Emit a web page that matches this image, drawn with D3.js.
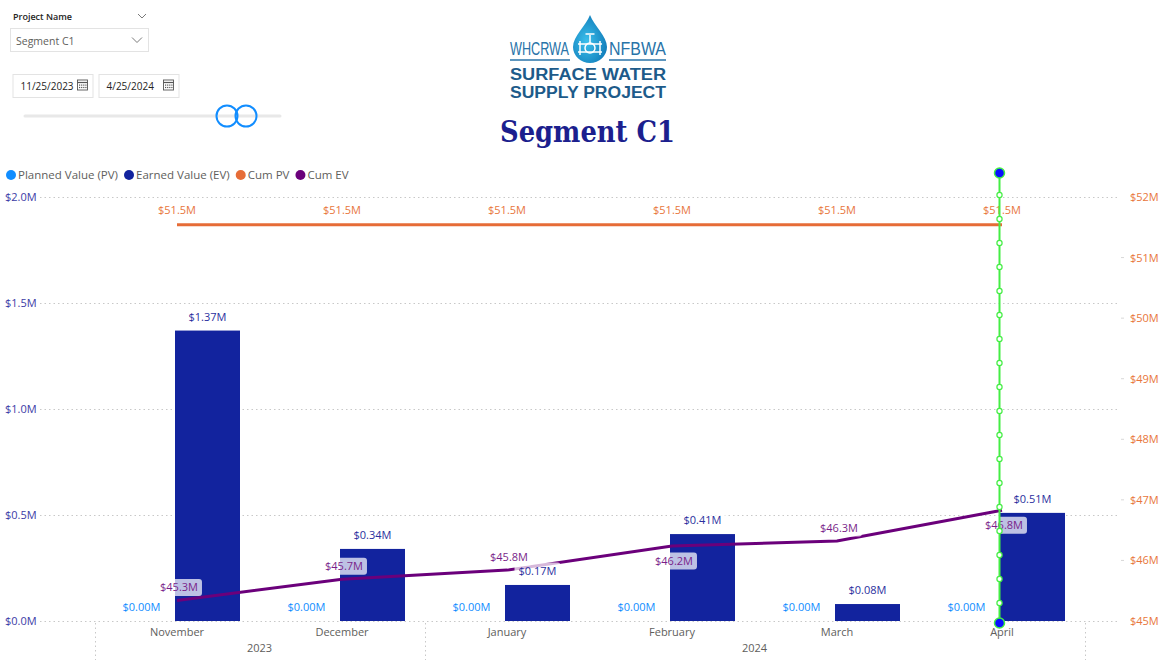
<!DOCTYPE html>
<html>
<head>
<meta charset="utf-8">
<script src="https://cdn.jsdelivr.net/npm/d3@7"></script>
<style>
  html, body { margin: 0; padding: 0; background: #ffffff; }
  svg { display: block; font-family: "Open Sans", "Noto Sans", sans-serif; }
</style>
</head>
<body>
<svg id="chart" width="1172" height="670"></svg>
<script>
// ---------- DATA ----------
const months = ["November", "December", "January", "February", "March", "April"];
const monthYears = ["2023", "2023", "2024", "2024", "2024", "2024"];
const yearLabels = ["2023", "2024"];
const plannedValue = [0, 0, 0, 0, 0, 0];          // $M
const earnedValue = [1.37, 0.34, 0.17, 0.41, 0.08, 0.51]; // $M
const cumPV = [51.54, 51.54, 51.54, 51.54, 51.54, 51.54]; // $M
const cumEV = [45.34, 45.69, 45.84, 46.24, 46.32, 46.83]; // $M
const leftTicks = [0, 0.5, 1.0, 1.5, 2.0];
const rightTicks = [45, 46, 47, 48, 49, 50, 51, 52];
const seriesNames = ["Planned Value (PV)", "Earned Value (EV)", "Cum PV", "Cum EV"];
const cumEVLabelSide = ["above", "above", "above", "below", "above", "below"];

// ---------- STYLE ----------
const colors = { pv: "#118DFF", ev: "#12239E", cumPV: "#E66C37", cumEV: "#6B007B" };
const seriesColors = [colors.pv, colors.ev, colors.cumPV, colors.cumEV];
const textGray = "#605E5C";

const svg = d3.select("#chart");

// ---------- SCALES ----------
const plotTop = 197, plotBottom = 621, plotLeft = 94.5, plotRight = 1084.5;
const x0 = d3.scaleBand().domain(months).range([plotLeft, plotRight]).padding(0);
const x1 = d3.scaleBand().domain(["PV", "EV"]).range([15.5, 145.5]).padding(0);
const yL = d3.scaleLinear().domain([0, 2]).range([plotBottom, plotTop]);
const yR = d3.scaleLinear().domain([45, 52]).range([plotBottom, plotTop]);
const cx = m => x0(m) + x0.bandwidth() / 2;

// ---------- TOP-LEFT CONTROLS ----------
const ctl = svg.append("g");
ctl.append("text").attr("x", 13).attr("y", 20).attr("font-size", 9).attr("font-weight", 600)
  .attr("fill", "#252423").text("Project Name");
function chevron(g, x, y, w, col) {
  g.append("path").attr("d", `M${x - w},${y - w / 2} L${x},${y + w / 2} L${x + w},${y - w / 2}`)
    .attr("fill", "none").attr("stroke", col).attr("stroke-width", 1);
}
chevron(ctl, 142, 16, 4, "#7a7a7a");
ctl.append("rect").attr("x", 10.5).attr("y", 28.5).attr("width", 138).attr("height", 23)
  .attr("fill", "#fff").attr("stroke", "#e3e3e3");
ctl.append("text").attr("x", 16).attr("y", 45).attr("font-size", 10.5).attr("fill", textGray).text("Segment C1");
chevron(ctl, 137, 40, 5, "#7a7a7a");

function dateBox(x, w, label) {
  ctl.append("rect").attr("x", x + 0.5).attr("y", 74.5).attr("width", w).attr("height", 23)
    .attr("fill", "#fff").attr("stroke", "#e3e3e3");
  ctl.append("text").attr("x", x + 8).attr("y", 90).attr("font-size", 10).attr("fill", "#252423").text(label);
  const ix = x + w - 15, iy = 80;
  ctl.append("rect").attr("x", ix).attr("y", iy).attr("width", 10).attr("height", 10)
    .attr("fill", "none").attr("stroke", "#555").attr("stroke-width", 0.9);
  ctl.append("line").attr("x1", ix).attr("x2", ix + 10).attr("y1", iy + 2.5).attr("y2", iy + 2.5)
    .attr("stroke", "#555").attr("stroke-width", 1.2);
  for (let r = 0; r < 2; r++) for (let c = 0; c < 4; c++) {
    ctl.append("rect").attr("x", ix + 1.5 + c * 2.1).attr("y", iy + 4.5 + r * 2.4)
      .attr("width", 1.2).attr("height", 1.2).attr("fill", "#555");
  }
}
dateBox(12.5, 80, "11/25/2023");
dateBox(98.5, 80, "4/25/2024");

ctl.append("line").attr("x1", 25).attr("x2", 280).attr("y1", 116).attr("y2", 116)
  .attr("stroke", "#e8e8e8").attr("stroke-width", 3).attr("stroke-linecap", "round");
[227, 246].forEach(x => {
  ctl.append("circle").attr("cx", x).attr("cy", 116).attr("r", 10.5)
    .attr("fill", "#fff").attr("fill-opacity", 0).attr("stroke", colors.pv).attr("stroke-width", 2);
});

// ---------- LOGO ----------
const logo = svg.append("g");
const logoBlue = "#2873a8", logoDark = "#1d5b8a";
logo.append("text").attr("x", 510).attr("y", 55).attr("font-size", 19)
  .attr("font-family", "'Liberation Sans Narrow', 'Liberation Sans', Arial, sans-serif")
  .attr("textLength", 59).attr("lengthAdjust", "spacingAndGlyphs").attr("fill", logoBlue).text("WHCRWA");
logo.append("text").attr("x", 609).attr("y", 55).attr("font-size", 19)
  .attr("font-family", "'Liberation Sans Narrow', 'Liberation Sans', Arial, sans-serif")
  .attr("textLength", 57).attr("lengthAdjust", "spacingAndGlyphs").attr("fill", logoBlue).text("NFBWA");
logo.append("line").attr("x1", 510).attr("x2", 570).attr("y1", 60).attr("y2", 60).attr("stroke", logoBlue).attr("stroke-width", 1.5);
logo.append("line").attr("x1", 609).attr("x2", 666).attr("y1", 60).attr("y2", 60).attr("stroke", logoBlue).attr("stroke-width", 1.5);
const defs = svg.append("defs");
const grad = defs.append("radialGradient").attr("id", "dropGrad").attr("cx", "40%").attr("cy", "55%").attr("r", "65%");
grad.append("stop").attr("offset", "0%").attr("stop-color", "#3cc0ec");
grad.append("stop").attr("offset", "100%").attr("stop-color", "#0f7ab8");
logo.append("path")
  .attr("d", "M590,15 C594,26 607,36 607,47 A17,16 0 0 1 573,47 C573,36 586,26 590,15 Z")
  .attr("fill", "url(#dropGrad)");
// valve icon
const v = logo.append("g").attr("stroke", "#fff").attr("fill", "none").attr("stroke-width", 1.5);
v.append("line").attr("x1", 578).attr("x2", 602).attr("y1", 44).attr("y2", 44);
v.append("line").attr("x1", 578).attr("x2", 602).attr("y1", 52).attr("y2", 52);
v.append("line").attr("x1", 580).attr("x2", 580).attr("y1", 41).attr("y2", 55);
v.append("line").attr("x1", 600).attr("x2", 600).attr("y1", 41).attr("y2", 55);
v.append("circle").attr("cx", 590).attr("cy", 48).attr("r", 5);
v.append("line").attr("x1", 590).attr("x2", 590).attr("y1", 43).attr("y2", 35);
v.append("line").attr("x1", 585.5).attr("x2", 594.5).attr("y1", 34).attr("y2", 34);
logo.append("text").attr("x", 510).attr("y", 79.5).attr("font-size", 16).attr("font-weight", 700)
  .attr("font-family", "'Liberation Sans', Arial, sans-serif")
  .attr("textLength", 156).attr("lengthAdjust", "spacingAndGlyphs").attr("fill", logoDark).text("SURFACE WATER");
logo.append("text").attr("x", 510).attr("y", 97.5).attr("font-size", 16).attr("font-weight", 700)
  .attr("font-family", "'Liberation Sans', Arial, sans-serif")
  .attr("textLength", 156).attr("lengthAdjust", "spacingAndGlyphs").attr("fill", logoDark).text("SUPPLY PROJECT");

svg.append("text").attr("x", 500).attr("y", 142)
  .attr("font-family", "Georgia, 'DejaVu Serif', 'Liberation Serif', serif")
  .attr("font-size", 29).attr("font-weight", 700).attr("fill", "#1c1f8e")
  .attr("textLength", 175).attr("lengthAdjust", "spacingAndGlyphs").text("Segment C1");

// ---------- LEGEND ----------
const legend = svg.append("g").attr("font-size", 11.5).attr("fill", textGray);
let lx = 6;
seriesNames.forEach((name, i) => {
  legend.append("circle").attr("cx", lx + 5).attr("cy", 175).attr("r", 5).attr("fill", seriesColors[i]);
  const t = legend.append("text").attr("x", lx + 12).attr("y", 179).attr("fill", textGray).text(name);
  lx += 12 + t.node().getComputedTextLength() + 6;
});

// ---------- GRID & AXES ----------
const grid = svg.append("g");
leftTicks.forEach(t => {
  grid.append("line").attr("x1", 40).attr("x2", 1120).attr("y1", Math.round(yL(t)) + 0.5).attr("y2", Math.round(yL(t)) + 0.5)
    .attr("stroke", "#c8c8c8").attr("stroke-width", 1).attr("stroke-dasharray", "1.5,3");
});
const leftAxis = d3.axisLeft(yL).tickValues(leftTicks).tickSize(0).tickFormat(d => "$" + d3.format(".1f")(d) + "M");
svg.append("g").attr("transform", "translate(37,0)").call(leftAxis)
  .call(g => g.select(".domain").remove())
  .call(g => g.selectAll("text").attr("x", -32).attr("text-anchor", "start").attr("font-size", 11)
    .attr("fill", "#3b3ba6").attr("font-family", "'Open Sans', sans-serif"));

const rightAxis = d3.axisRight(yR).tickValues(rightTicks).tickSize(0).tickFormat(d => "$" + d + "M");
svg.append("g").attr("transform", "translate(1130,0)").call(rightAxis)
  .call(g => g.select(".domain").remove())
  .call(g => g.selectAll("text").attr("x", 0).attr("font-size", 11)
    .attr("fill", "#E8763C").attr("font-family", "'Open Sans', sans-serif"));
rightTicks.filter(t => !leftTicks.some(l => Math.abs(yL(l) - yR(t)) < 2)).forEach(t => {
  grid.append("line").attr("x1", 1121).attr("x2", 1124).attr("y1", yR(t)).attr("y2", yR(t))
    .attr("stroke", "#d8d8d8");
});

// x axis
const xAxis = d3.axisBottom(x0).tickSize(0).tickPadding(0);
svg.append("g").attr("transform", `translate(0,${plotBottom})`).call(xAxis)
  .call(g => g.select(".domain").remove())
  .call(g => g.selectAll("text").attr("y", 15).attr("dy", 0).attr("font-size", 11)
    .attr("fill", textGray).attr("font-family", "'Open Sans', sans-serif"));

// year groups
const yearGroups = yearLabels.map(y => {
  const ms = months.filter((m, i) => monthYears[i] === y);
  return { y, start: x0(ms[0]), end: x0(ms[ms.length - 1]) + x0.bandwidth() };
});
const seps = [yearGroups[0].start, ...yearGroups.map(g => g.end)];
seps.forEach(sx => {
  svg.append("line").attr("x1", Math.round(sx) + 0.5).attr("x2", Math.round(sx) + 0.5).attr("y1", 623).attr("y2", 660)
    .attr("stroke", "#c8c8c8").attr("stroke-dasharray", "1.5,3");
});
yearGroups.forEach(g => {
  svg.append("text").attr("x", (g.start + g.end) / 2).attr("y", 652).attr("text-anchor", "middle")
    .attr("font-size", 11).attr("fill", textGray).text(g.y);
});

// ---------- BARS ----------
const bars = svg.append("g");
months.forEach((m, i) => {
  const pvH = plotBottom - yL(plannedValue[i]);
  bars.append("rect").attr("x", x0(m) + x1("PV")).attr("y", yL(plannedValue[i]))
    .attr("width", x1.bandwidth()).attr("height", pvH).attr("fill", colors.pv);
  bars.append("rect").attr("x", x0(m) + x1("EV")).attr("y", yL(earnedValue[i]))
    .attr("width", x1.bandwidth()).attr("height", plotBottom - yL(earnedValue[i])).attr("fill", colors.ev);
});

// ---------- LINES ----------
const lineGen = ys => d3.line().x((d, i) => cx(months[i])).y(d => ys(d));
svg.append("path").datum(cumPV).attr("d", lineGen(yR)).attr("fill", "none")
  .attr("stroke", colors.cumPV).attr("stroke-width", 3);
svg.append("path").datum(cumEV).attr("d", lineGen(yR)).attr("fill", "none")
  .attr("stroke", colors.cumEV).attr("stroke-width", 3);

// ---------- DATA LABELS ----------
const labels = svg.append("g").attr("font-size", 11);
function label(x, y, text, color, bg) {
  const g = labels.append("g");
  const t = g.append("text").attr("x", x).attr("y", y + 4).attr("text-anchor", "middle").attr("fill", color).text(text);
  if (bg) {
    const w = t.node().getComputedTextLength();
    g.insert("rect", "text").attr("x", x - w / 2 - 4).attr("y", y - 8.5).attr("width", w + 8).attr("height", 17)
      .attr("rx", 3).attr("fill", "#ffffff").attr("fill-opacity", 0.72);
  }
}
const fmt2 = d => "$" + d3.format(".2f")(d) + "M";
const fmt1 = d => "$" + d3.format(".1f")(d) + "M";
months.forEach((m, i) => {
  label(x0(m) + x1("PV") + x1.bandwidth() / 2 - 1, yL(plannedValue[i]) - 14, fmt2(plannedValue[i]), colors.pv, false);
  label(x0(m) + x1("EV") + x1.bandwidth() / 2, yL(earnedValue[i]) - 14, fmt2(earnedValue[i]), "#2a2f9e", true);
  label(cx(m), yR(cumPV[i]) - 15, fmt1(cumPV[i]), "#E8763C", false);
});
months.forEach((m, i) => {
  const dy = cumEVLabelSide[i] === "above" ? -13 : 15;
  label(cx(m) + 2, yR(cumEV[i]) + dy, fmt1(cumEV[i]), "#7a1f8a", true);
});

// ---------- SELECTION MARKER (green) ----------
const selX = cx(months[5]) - 2.5;
const sel = svg.append("g");
sel.append("line").attr("x1", selX).attr("x2", selX).attr("y1", 173).attr("y2", 623)
  .attr("stroke", "#44ee44").attr("stroke-width", 2);
d3.range(195, 610, 24).forEach(y => {
  sel.append("circle").attr("cx", selX).attr("cy", y).attr("r", 2.6)
    .attr("fill", "#fff").attr("stroke", "#44ee44").attr("stroke-width", 1.2);
});
[173, 623].forEach(y => {
  sel.append("circle").attr("cx", selX).attr("cy", y).attr("r", 5)
    .attr("fill", "#0a10ff").attr("stroke", "#44ee44").attr("stroke-width", 1.5);
});
</script>
</body>
</html>
